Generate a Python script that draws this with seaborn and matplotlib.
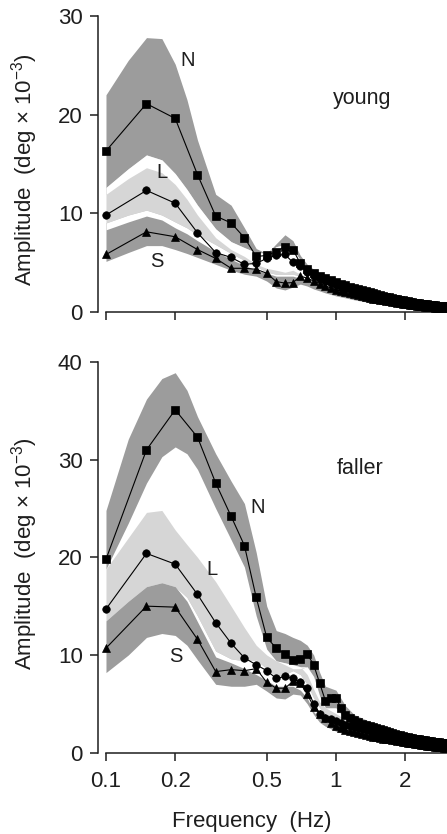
import numpy as np
import pandas as pd
import seaborn as sns
import matplotlib
matplotlib.use("Agg")
import matplotlib.pyplot as plt
from matplotlib.ticker import NullLocator

# frequency bins of the spectra (Hz)
freq = [0.10, 0.15, 0.20, 0.25, 0.30, 0.35, 0.40, 0.45, 0.50, 0.55,
        0.60, 0.65, 0.70, 0.75, 0.80, 0.85, 0.90, 0.95, 1.00, 1.05,
        1.10, 1.15, 1.20, 1.25, 1.30, 1.35, 1.40, 1.45, 1.50, 1.55,
        1.60, 1.65, 1.70, 1.75, 1.80, 1.85, 1.90, 1.95, 2.00, 2.05,
        2.10, 2.15, 2.20, 2.25, 2.30, 2.35, 2.40, 2.45, 2.50, 2.55,
        2.60, 2.65, 2.70, 2.75, 2.80, 2.85, 2.90, 2.95, 3.00]

# ---- young: mean amplitude (deg x 1e-3)
young_N = [16.3, 21.1, 19.6, 13.9, 9.7, 9.0, 7.5, 5.6, 5.7, 6.1,
           6.6, 6.3, 4.9, 4.3, 3.9, 3.6, 3.4, 3.2, 3.0, 2.85,
           2.7, 2.55, 2.4, 2.3, 2.2, 2.1, 2.0, 1.9, 1.8, 1.7,
           1.6, 1.5, 1.45, 1.4, 1.3, 1.25, 1.2, 1.15, 1.1, 1.05,
           1.0, 0.95, 0.9, 0.9, 0.85, 0.8, 0.8, 0.75, 0.75, 0.7,
           0.7, 0.65, 0.65, 0.6, 0.6, 0.6, 0.55, 0.55, 0.55]
young_L = [9.8, 12.3, 11.0, 8.0, 6.0, 5.5, 4.8, 4.9, 5.4, 5.7,
           5.8, 5.0, 4.6, 4.0, 3.6, 3.3, 3.1, 2.9, 2.7, 2.5,
           2.4, 2.3, 2.1, 2.0, 1.9, 1.8, 1.7, 1.6, 1.5, 1.45,
           1.4, 1.3, 1.25, 1.2, 1.1, 1.05, 1.0, 1.0, 0.95, 0.9,
           0.85, 0.8, 0.8, 0.75, 0.7, 0.7, 0.65, 0.65, 0.6, 0.6,
           0.55, 0.55, 0.5, 0.5, 0.5, 0.45, 0.45, 0.45, 0.4]
young_S = [5.8, 8.1, 7.6, 6.3, 5.4, 4.4, 4.4, 4.3, 3.9, 3.05,
           2.9, 2.95, 3.6, 3.4, 3.1, 2.85, 2.6, 2.4, 2.2, 2.1,
           1.95, 1.85, 1.75, 1.65, 1.55, 1.45, 1.4, 1.3, 1.25, 1.2,
           1.15, 1.1, 1.05, 1.0, 0.95, 0.9, 0.85, 0.8, 0.8, 0.75,
           0.7, 0.7, 0.65, 0.6, 0.6, 0.55, 0.55, 0.5, 0.5, 0.45,
           0.45, 0.45, 0.4, 0.4, 0.4, 0.35, 0.35, 0.35, 0.3]

# ---- faller: mean amplitude
faller_N = [19.8, 31.0, 35.1, 32.3, 27.6, 24.2, 21.2, 15.9, 11.8, 10.7,
            10.1, 9.5, 9.6, 10.1, 9.0, 7.1, 5.3, 5.6, 5.6, 4.6,
            3.9, 3.5, 3.3, 3.1, 2.95, 2.8, 2.7, 2.6, 2.5, 2.4,
            2.3, 2.2, 2.1, 2.0, 1.95, 1.85, 1.8, 1.7, 1.65, 1.6,
            1.55, 1.5, 1.45, 1.4, 1.35, 1.3, 1.3, 1.25, 1.2, 1.2,
            1.15, 1.1, 1.1, 1.05, 1.05, 1.0, 1.0, 0.95, 0.95]
faller_L = [14.7, 20.4, 19.3, 16.2, 13.3, 11.2, 9.7, 9.0, 8.4, 7.6,
            7.8, 7.6, 7.2, 6.6, 5.0, 4.0, 3.6, 3.4, 3.2, 3.0,
            2.8, 2.7, 2.6, 2.5, 2.4, 2.3, 2.2, 2.1, 2.0, 1.95,
            1.9, 1.8, 1.75, 1.7, 1.6, 1.55, 1.5, 1.45, 1.4, 1.35,
            1.3, 1.25, 1.2, 1.2, 1.15, 1.1, 1.05, 1.0, 1.0, 0.95,
            0.9, 0.9, 0.85, 0.85, 0.8, 0.8, 0.75, 0.75, 0.7]
faller_S = [10.7, 15.0, 14.9, 11.6, 8.3, 8.5, 8.4, 8.6, 7.2, 6.6,
            6.6, 7.3, 7.1, 6.0, 4.7, 4.0, 3.5, 3.0, 2.7, 2.5,
            2.35, 2.2, 2.1, 2.0, 1.9, 1.8, 1.7, 1.65, 1.6, 1.5,
            1.45, 1.4, 1.35, 1.3, 1.25, 1.2, 1.15, 1.1, 1.05, 1.0,
            0.95, 0.95, 0.9, 0.85, 0.85, 0.8, 0.8, 0.75, 0.7, 0.7,
            0.65, 0.65, 0.6, 0.6, 0.55, 0.55, 0.55, 0.5, 0.5]

# ---- spread bands (lower / upper edge), read on a coarser grid
band_freq = [0.1, 0.125, 0.15, 0.175, 0.2, 0.225, 0.25, 0.3, 0.35, 0.4,
             0.45, 0.5, 0.55, 0.6, 0.65, 0.7, 0.75, 0.8, 0.85, 0.9,
             1.0, 1.1, 1.2, 1.5, 2.0, 2.5, 3.0]

young_N_hi = [22.0, 25.5, 27.8, 27.7, 25.1, 21.5, 17.4, 11.9, 10.8, 8.5,
              6.4, 5.9, 6.9, 7.8, 7.2, 5.7, 4.8, 4.3, 3.9, 3.6,
              3.2, 2.8, 2.5, 1.9, 1.3, 0.95, 0.8]
young_N_lo = [11.9, 13.5, 14.6, 14.1, 12.9, 11.4, 9.8, 7.5, 6.3, 5.6,
              4.8, 4.4, 4.2, 4.0, 4.2, 3.8, 3.4, 3.1, 2.9, 2.6,
              2.2, 1.9, 1.7, 1.2, 0.8, 0.6, 0.4]
young_L_hi = [12.6, 14.5, 15.9, 15.4, 14.0, 12.4, 10.8, 8.4, 7.1, 6.5,
              6.0, 6.0, 6.6, 6.8, 6.4, 5.2, 4.5, 4.0, 3.6, 3.3,
              2.9, 2.5, 2.1, 1.5, 1.0, 0.8, 0.6]
young_L_lo = [8.3, 9.1, 9.7, 9.3, 8.5, 7.9, 7.2, 6.1, 5.3, 4.7,
              4.2, 3.9, 3.6, 3.6, 3.6, 3.4, 3.1, 2.9, 2.7, 2.5,
              2.1, 1.8, 1.6, 1.2, 0.8, 0.6, 0.4]
young_S_hi = [9.0, 9.8, 10.3, 9.8, 9.1, 8.5, 7.8, 6.8, 5.9, 5.2,
              4.6, 4.0, 3.8, 3.8, 3.8, 3.6, 3.5, 3.3, 3.0, 2.8,
              2.4, 2.1, 1.8, 1.4, 0.9, 0.7, 0.6]
young_S_lo = [5.1, 6.0, 6.7, 6.7, 6.3, 5.9, 5.5, 4.8, 4.2, 3.8,
              3.6, 3.1, 2.4, 2.2, 2.5, 2.8, 2.6, 2.3, 2.1, 1.9,
              1.6, 1.4, 1.2, 0.8, 0.5, 0.3, 0.2]

faller_N_hi = [24.8, 32.1, 36.2, 38.3, 38.9, 37.1, 34.4, 30.6, 27.8, 25.5,
               20.5, 15.0, 12.5, 12.2, 11.8, 11.5, 11.0, 10.0, 8.2, 6.8,
               6.4, 4.8, 3.9, 2.9, 2.0, 1.6, 1.3]
faller_N_lo = [18.8, 23.5, 27.6, 30.3, 31.3, 30.6, 29.0, 25.0, 21.8, 19.0,
               14.0, 10.6, 9.4, 9.0, 8.6, 8.6, 8.8, 7.8, 5.8, 4.6,
               4.6, 3.4, 2.8, 2.0, 1.3, 0.9, 0.6]
faller_L_hi = [18.8, 22.0, 24.6, 24.8, 22.8, 21.3, 20.0, 17.5, 15.0, 12.8,
               11.0, 10.0, 9.4, 9.2, 9.0, 8.8, 8.0, 6.5, 5.2, 4.6,
               4.0, 3.4, 3.0, 2.2, 1.5, 1.1, 0.8]
faller_L_lo = [13.5, 15.5, 17.0, 17.4, 17.0, 15.5, 13.4, 9.8, 9.2, 8.6,
               8.0, 7.4, 6.8, 6.8, 6.8, 6.4, 5.6, 4.2, 3.5, 3.2,
               2.8, 2.4, 2.0, 1.5, 1.0, 0.7, 0.5]
faller_S_hi = [13.5, 15.5, 17.0, 17.4, 17.0, 15.9, 14.0, 10.4, 9.6, 9.4,
               9.5, 8.6, 7.8, 8.0, 8.4, 8.0, 7.0, 5.6, 4.6, 4.0,
               3.2, 2.7, 2.4, 1.8, 1.2, 0.8, 0.6]
faller_S_lo = [8.2, 10.0, 11.8, 12.2, 12.0, 11.0, 9.5, 7.0, 6.8, 6.8,
               7.0, 6.3, 5.6, 5.5, 6.0, 5.9, 5.0, 3.9, 3.1, 2.7,
               2.2, 1.9, 1.7, 1.2, 0.7, 0.45, 0.3]

groups = ["N", "L", "S"]
xticks = [0.1, 0.2, 0.5, 1, 2]
xticklabels = ["0.1", "0.2", "0.5", "1", "2"]

DARK = "#9c9c9c"
LIGHT = "#d6d6d6"
INK = "#1e1e1e"

sns.set_style("ticks")
plt.rcParams["font.family"] = ["Liberation Sans", "DejaVu Sans"]
plt.rcParams["mathtext.fontset"] = "custom"
plt.rcParams["mathtext.rm"] = "Liberation Sans"
plt.rcParams["mathtext.it"] = "Liberation Sans"


def draw_panel(ax, means, bands, ymax, yticks):
    bf = np.array(band_freq)
    colors = {"N": DARK, "L": LIGHT, "S": DARK}
    for g in groups:
        lo, hi = bands[g]
        ax.fill_between(bf, lo, hi, color=colors[g], lw=0, zorder=1)
    # where two spreads overlap the original shows white
    for a, b in [("N", "L"), ("L", "S"), ("N", "S")]:
        lo = np.maximum(bands[a][0], bands[b][0])
        hi = np.minimum(bands[a][1], bands[b][1])
        ax.fill_between(bf, lo, np.maximum(hi, lo), color="white", lw=0, zorder=2)

    df = pd.concat([pd.DataFrame({"freq": freq, "amp": means[g], "group": g})
                    for g in groups])
    sns.lineplot(data=df, x="freq", y="amp", hue="group", style="group",
                 palette={g: "black" for g in groups},
                 markers={"N": "s", "L": "o", "S": "^"}, dashes=False,
                 markersize=5.4, markeredgecolor="black", markeredgewidth=0.5,
                 linewidth=0.8, legend=False, ax=ax, zorder=3)

    ax.set_xscale("log")
    ax.set_xlim(0.0923, 3.04)
    ax.set_ylim(0, ymax)
    ax.set_xticks(xticks)
    ax.set_xticklabels(xticklabels)
    ax.xaxis.set_minor_locator(NullLocator())
    ax.set_yticks(yticks)
    ax.set_xlabel("")
    ax.set_ylabel("Amplitude  (deg × 10$^{-3}$)", fontsize=16, color=INK)
    ax.tick_params(direction="out", length=6, width=1.1, colors=INK,
                   labelsize=16, pad=5)
    ax.tick_params(axis="x", pad=7)
    for side in ["top", "right"]:
        ax.spines[side].set_visible(False)
    for side in ["left", "bottom"]:
        ax.spines[side].set_linewidth(1.1)
        ax.spines[side].set_color(INK)
    ax.spines["left"].set_bounds(0, ymax)
    ax.spines["bottom"].set_bounds(0.1, 3.04)


fig = plt.figure(figsize=(4.47, 8.34), dpi=100)
ax1 = fig.add_axes([0.2192, 0.6263, 0.7808, 0.3546])
ax2 = fig.add_axes([0.2192, 0.0975, 0.7808, 0.4685])

draw_panel(ax1,
           {"N": young_N, "L": young_L, "S": young_S},
           {"N": (young_N_lo, young_N_hi), "L": (young_L_lo, young_L_hi),
            "S": (young_S_lo, young_S_hi)},
           30, [0, 10, 20, 30])
draw_panel(ax2,
           {"N": faller_N, "L": faller_L, "S": faller_S},
           {"N": (faller_N_lo, faller_N_hi), "L": (faller_L_lo, faller_L_hi),
            "S": (faller_S_lo, faller_S_hi)},
           40, [0, 10, 20, 30, 40])

ax1.tick_params(axis="x", labelbottom=False)
ax1.yaxis.set_label_coords(-0.165, 0.48)
ax2.yaxis.set_label_coords(-0.165, 0.51)
ax2.set_xlabel("Frequency  (Hz)", fontsize=16, color=INK)
ax2.xaxis.set_label_coords(0.441, -0.15)

txt = dict(fontsize=14.5, color=INK, ha="center", va="center", zorder=5)
ax1.text(0.227, 25.5, "N", **txt)
ax1.text(0.175, 14.1, "L", **txt)
ax1.text(0.166, 5.1, "S", **txt)
ax1.text(1.30, 21.6, "young", **dict(txt, fontsize=15.5))
ax2.text(0.458, 25.1, "N", **txt)
ax2.text(0.288, 18.8, "L", **txt)
ax2.text(0.2015, 9.8, "S", **txt)
ax2.text(1.27, 29.1, "faller", **dict(txt, fontsize=15.5))

fig.savefig("out.png", dpi=100)
